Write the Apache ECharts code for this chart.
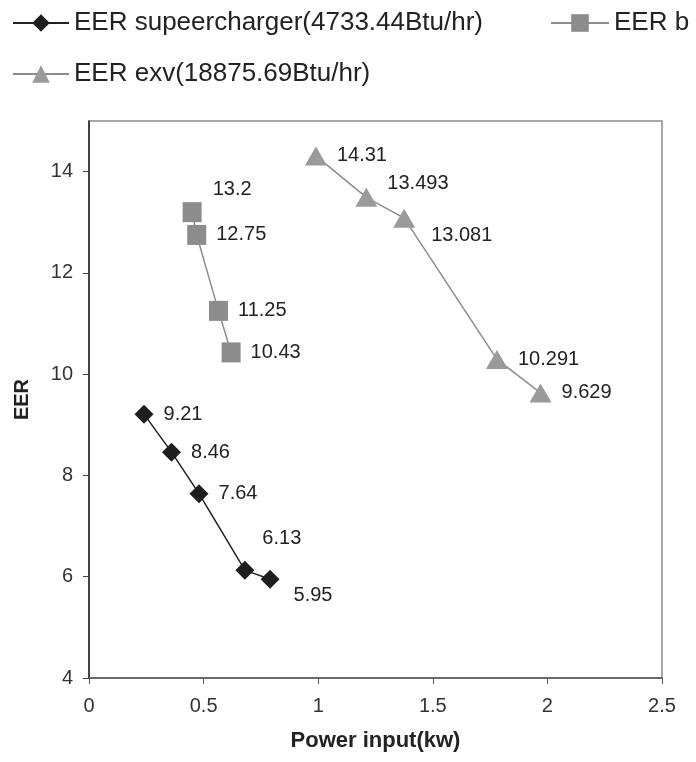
<!DOCTYPE html>
<html>
<head>
<meta charset="utf-8">
<script src="https://cdn.jsdelivr.net/npm/echarts@6/dist/echarts.min.js"></script>
<style>
    html, body { margin: 0; padding: 0; background: #fff; }
    #main { width: 696px; height: 762px; }
</style>
</head>
<body>
<div id="main"></div>
<script>
var seriesNames = ['EER supeercharger(4733.44Btu/hr)', 'EER b', 'EER exv(18875.69Btu/hr)'];

// supercharger (diamonds)
var superPower = [0.24, 0.36, 0.48, 0.68, 0.79];
var superEER = [9.21, 8.46, 7.64, 6.13, 5.95];

// b (squares)
var bPower = [0.45, 0.47, 0.565, 0.62];
var bEER = [13.2, 12.75, 11.25, 10.43];

// exv (triangles)
var exvPower = [0.99, 1.21, 1.375, 1.78, 1.97];
var exvEER = [14.31, 13.493, 13.081, 10.291, 9.629];

var xTicks = [0, 0.5, 1, 1.5, 2, 2.5];
var yTicks = [4, 6, 8, 10, 12, 14];

// label nudges for the points whose label is not simply on the right
var superOffsets = [null, null, null, [-2, -32], [4, 16]];
var bOffsets = [[1, -23], null, null, null];
var exvOffsets = [null, [0, -14], [6, 17], null, null];

function makeData(xs, ys, offsets) {
    var out = [];
    for (var i = 0; i < xs.length; i++) {
        var item = { value: [xs[i], ys[i]] };
        if (offsets[i]) {
            item.label = { offset: offsets[i] };
        }
        out.push(item);
    }
    return out;
}

var font = 'Liberation Sans, Arial, sans-serif';

var labelStyle = {
    show: true,
    position: 'right',
    distance: 10,
    color: '#222',
    fontSize: 20,
    fontFamily: font,
    formatter: function(p) { return p.value[1]; }
};

var legendText = { fontSize: 26, color: '#222', fontFamily: font };

var myChart = echarts.init(document.getElementById('main'));

var option = {
    animation: false,
    backgroundColor: '#fff',
    legend: [{
        data: [seriesNames[0]],
        left: 12, top: 10, padding: 0,
        itemWidth: 56, itemHeight: 22, itemGap: 9,
        textStyle: legendText
    }, {
        data: [seriesNames[1]],
        left: 550, top: 10, padding: 0,
        itemWidth: 58, itemHeight: 22,
        textStyle: legendText
    }, {
        data: [seriesNames[2]],
        left: 12, top: 61, padding: 0,
        itemWidth: 56, itemHeight: 22,
        textStyle: legendText
    }],
    grid: {
        left: 89,
        right: 34,
        top: 121,
        bottom: 84,
        show: true,
        borderColor: '#8a8a8a',
        borderWidth: 1.5,
        backgroundColor: 'transparent'
    },
    xAxis: {
        type: 'value',
        min: xTicks[0],
        max: xTicks[xTicks.length - 1],
        interval: 0.5,
        name: 'Power input(kw)',
        nameLocation: 'middle',
        nameGap: 52,
        nameTextStyle: { fontSize: 22, fontWeight: 'bold', color: '#222', fontFamily: font },
        axisLine: { show: true, lineStyle: { color: '#555', width: 1.5 } },
        axisTick: { show: true, inside: false, length: 6, lineStyle: { color: '#555' } },
        axisLabel: { fontSize: 20, color: '#333', margin: 18, fontFamily: font },
        splitLine: { show: false }
    },
    yAxis: {
        type: 'value',
        min: yTicks[0],
        max: 15,
        interval: 2,
        name: 'EER',
        nameLocation: 'middle',
        nameRotate: 90,
        nameGap: 57,
        nameTextStyle: { fontSize: 20, fontWeight: 'bold', color: '#222', fontFamily: font },
        axisLine: { show: true, lineStyle: { color: '#222', width: 1.5 } },
        axisTick: { show: true, inside: false, length: 6, lineStyle: { color: '#444' } },
        axisLabel: { fontSize: 20, color: '#333', margin: 16, showMaxLabel: false, fontFamily: font },
        splitLine: { show: false }
    },
    series: [{
        name: seriesNames[0],
        type: 'line',
        symbol: 'diamond',
        symbolSize: [19, 19],
        itemStyle: { color: '#1e1e1e' },
        lineStyle: { color: '#222', width: 1.5 },
        label: labelStyle,
        data: makeData(superPower, superEER, superOffsets)
    }, {
        name: seriesNames[1],
        type: 'line',
        symbol: 'rect',
        symbolSize: [19, 20],
        itemStyle: { color: '#8c8c8c' },
        lineStyle: { color: '#8c8c8c', width: 1.5 },
        label: labelStyle,
        data: makeData(bPower, bEER, bOffsets)
    }, {
        name: seriesNames[2],
        type: 'line',
        symbol: 'triangle',
        symbolSize: [22, 19],
        itemStyle: { color: '#9a9a9a' },
        lineStyle: { color: '#8c8c8c', width: 1.5 },
        label: labelStyle,
        data: makeData(exvPower, exvEER, exvOffsets)
    }]
};

myChart.setOption(option);
</script>
</body>
</html>
